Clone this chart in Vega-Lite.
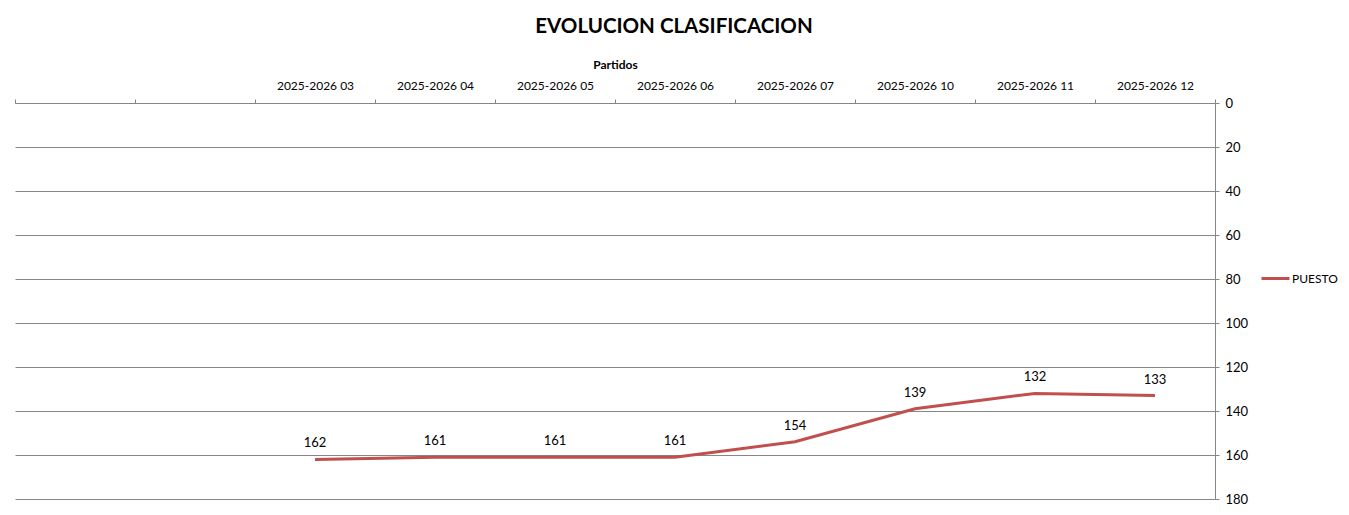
{
  "$schema": "https://vega.github.io/schema/vega-lite/v6.json",
  "width": 1200,
  "height": 396,
  "autosize": "none",
  "padding": {"left": 15, "top": 103, "right": 134, "bottom": 16},
  "background": "white",
  "title": {
    "text": "EVOLUCION CLASIFICACION",
    "font": "Lato",
    "fontSize": 20.5,
    "fontWeight": "bold",
    "color": "black",
    "anchor": "middle",
    "frame": "group",
    "dx": 59,
    "offset": 21
  },
  "data": {
    "values": [
      {"partido": "2025-2026 03", "puesto": 162},
      {"partido": "2025-2026 04", "puesto": 161},
      {"partido": "2025-2026 05", "puesto": 161},
      {"partido": "2025-2026 06", "puesto": 161},
      {"partido": "2025-2026 07", "puesto": 154},
      {"partido": "2025-2026 10", "puesto": 139},
      {"partido": "2025-2026 11", "puesto": 132},
      {"partido": "2025-2026 12", "puesto": 133}
    ]
  },
  "encoding": {
    "x": {
      "field": "partido",
      "type": "nominal",
      "sort": null,
      "scale": {
        "domain": ["_a", "_b", "2025-2026 03", "2025-2026 04", "2025-2026 05", "2025-2026 06", "2025-2026 07", "2025-2026 10", "2025-2026 11", "2025-2026 12"],
        "paddingInner": 0,
        "paddingOuter": 0
      },
      "axis": {
        "orient": "top",
        "title": "Partidos",
        "titleFont": "Lato",
        "titleFontSize": 12,
        "titleFontWeight": "bold",
        "titleColor": "black",
        "titlePadding": 8,
        "labelExpr": "indexof(datum.label, '_') == 0 ? '' : datum.label",
        "labelFont": "Lato",
        "labelFontSize": 12,
        "labelColor": "black",
        "labelAngle": 0,
        "labelPadding": 7,
        "tickBand": "extent",
        "tickSize": 4,
        "tickColor": "#868686",
        "domainColor": "#868686",
        "grid": false
      }
    },
    "y": {
      "field": "puesto",
      "type": "quantitative",
      "scale": {"domain": [0, 180], "reverse": true, "nice": false, "zero": false},
      "axis": {
        "orient": "right",
        "title": null,
        "values": [0, 20, 40, 60, 80, 100, 120, 140, 160, 180],
        "grid": true,
        "gridColor": "#868686",
        "domainColor": "#868686",
        "tickColor": "#868686",
        "tickSize": 4,
        "labelFont": "Lato",
        "labelFontSize": 13,
        "labelColor": "black",
        "labelPadding": 6
      }
    }
  },
  "layer": [
    {
      "mark": {"type": "line", "strokeWidth": 3},
      "encoding": {
        "color": {
          "datum": "PUESTO",
          "scale": {"range": ["#C0504D"]},
          "legend": {
            "title": null,
            "orient": "none",
            "legendX": 1245,
            "legendY": 160,
            "symbolType": "stroke",
            "symbolSize": 784,
            "symbolStrokeWidth": 3,
            "labelFont": "Lato",
            "labelFontSize": 12,
            "labelColor": "black",
            "labelOffset": 1
          }
        }
      }
    },
    {
      "mark": {"type": "text", "dy": -16, "font": "Lato", "fontSize": 13, "color": "black"},
      "encoding": {"text": {"field": "puesto", "type": "quantitative"}}
    }
  ],
  "config": {"view": {"stroke": null}}
}
